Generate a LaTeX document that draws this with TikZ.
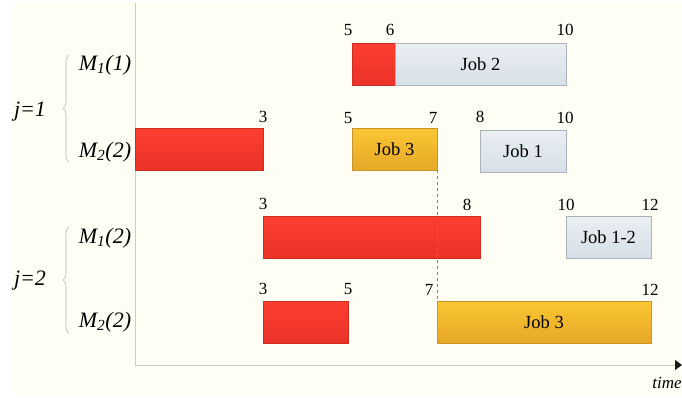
\documentclass[tikz,border=0pt]{standalone}
\usepackage{fontspec}
\setmainfont{Liberation Serif}
\usetikzlibrary{arrows.meta,decorations.pathreplacing}
\definecolor{bg}{RGB}{254,254,244}
\definecolor{redtop}{RGB}{252,62,48}
\definecolor{redbot}{RGB}{234,50,40}
\definecolor{redline}{RGB}{205,45,35}
\definecolor{bluetop}{RGB}{234,239,242}
\definecolor{bluebot}{RGB}{214,224,232}
\definecolor{blueline}{RGB}{172,178,186}
\definecolor{goldtop}{RGB}{251,198,52}
\definecolor{goldbot}{RGB}{230,168,38}
\definecolor{goldline}{RGB}{200,150,40}
\definecolor{axisc}{RGB}{205,205,198}
\definecolor{bracec}{RGB}{185,185,178}
\begin{document}
\begin{tikzpicture}[x=1pt,y=-1pt,
  bar/.style={anchor=north west, inner sep=0pt, outer sep=0pt, line width=0.6pt,
    font=\fontsize{18.5}{18.5}\selectfont},
  redbar/.style={bar, draw=redline, top color=redtop, bottom color=redbot},
  bluebar/.style={bar, draw=blueline, top color=bluetop, bottom color=bluebot},
  goldbar/.style={bar, draw=goldline, top color=goldtop, bottom color=goldbot},
  num/.style={font=\fontsize{17}{17}\selectfont, inner sep=0pt},
  mlbl/.style={font=\fontsize{22}{22}\selectfont\itshape, inner sep=0pt},
  jlbl/.style={font=\fontsize{22}{22}\selectfont\itshape, inner sep=0pt},
  bracestyle/.style={draw=bracec, line width=0.6pt, decorate, decoration={brace, amplitude=6pt}},
  ]
\useasboundingbox (0,0) rectangle (682,397);
\fill[bg] (14,3) rectangle (682,394);

% axes
\coordinate (ytop) at (135,3);
\coordinate (orig) at (135,365);
\coordinate (xend) at (682,365);
\draw[axisc, line width=0.8pt] (ytop) -- (orig);
\draw[axisc, line width=0.8pt, -{Triangle[length=7pt,width=10pt,color=black!90]}] (orig) -- (xend);
\node[font=\fontsize{17}{17}\selectfont\itshape, inner sep=0pt] (time) at (667,383) {time};

% row 1 : M1(1)
\node[redbar, minimum width=43pt, minimum height=42pt] (r1a) at (352,43) {};
\node[bluebar, minimum width=171pt, minimum height=42pt] (job2) at (395,43) {Job 2};
\node[num] (n1a) at (348,30) {5};
\node[num] (n1b) at (390,30) {6};
\node[num] (n1c) at (565,30) {10};

% row 2 : M2(2)
\node[redbar, minimum width=128pt, minimum height=42pt] (r2a) at (135,128) {};
\node[goldbar, minimum width=85pt, minimum height=42pt] (job3a) at (352,128) {Job 3};
\node[bluebar, minimum width=86pt, minimum height=42pt] (job1) at (480,130) {Job 1};
\node[num] (n2a) at (263,117) {3};
\node[num] (n2b) at (348,118) {5};
\node[num] (n2c) at (433,118) {7};
\node[num] (n2d) at (480,117) {8};
\node[num] (n2e) at (565,118) {10};

% row 3 : M1(2)
\node[redbar, minimum width=217pt, minimum height=42pt] (r3a) at (263,216) {};
\node[bluebar, minimum width=85pt, minimum height=42pt] (job12) at (566,216) {Job 1-2};
\node[num] (n3a) at (263,204) {3};
\node[num] (n3b) at (467,205) {8};
\node[num] (n3c) at (566,205) {10};
\node[num] (n3d) at (650,205) {12};

% row 4 : M2(2)
\node[redbar, minimum width=85pt, minimum height=42pt] (r4a) at (263,301) {};
\node[goldbar, minimum width=214pt, minimum height=42pt] (job3b) at (437,301) {Job 3};
\node[num] (n4a) at (263,289) {3};
\node[num] (n4b) at (348,289) {5};
\node[num] (n4c) at (429,290) {7};
\node[num] (n4d) at (650,290) {12};

% dashed link
\draw[dashed, gray, line width=0.5pt] (job3a.south east) -- (job3b.north west);

% machine labels
\node[mlbl] (m11) at (105,65) {M\textsubscript{1}(1)};
\node[mlbl] (m22a) at (105,152) {M\textsubscript{2}(2)};
\node[mlbl] (m12) at (105,238) {M\textsubscript{1}(2)};
\node[mlbl] (m22b) at (105,322) {M\textsubscript{2}(2)};

% groups
\coordinate (b1s) at (69,162);
\coordinate (b1e) at (69,55);
\coordinate (b2s) at (69,333);
\coordinate (b2e) at (69,227);
\draw[bracestyle] (b1s) -- (b1e);
\draw[bracestyle] (b2s) -- (b2e);
\node[jlbl] (j1) at (30,112) {j=1};
\node[jlbl] (j2) at (30,281) {j=2};
\end{tikzpicture}
\end{document}
